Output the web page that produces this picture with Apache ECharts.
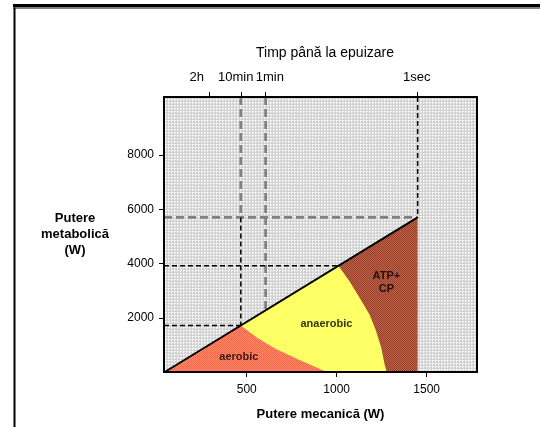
<!DOCTYPE html>
<html>
<head>
<meta charset="utf-8">
<script src="https://cdn.jsdelivr.net/npm/echarts@6/dist/echarts.min.js"></script>
<style>
  html, body { margin: 0; padding: 0; background: #fff; }
  #chart { width: 540px; height: 427px; }
</style>
</head>
<body>
<div id="chart"></div>
<script>
// Axis extents (mechanical power W, metabolic power W)
const xRange = [40, 1780];
const yRange = [0, 10140];
const xTickValues = [500, 1000, 1500];
const yTickValues = [2000, 4000, 6000, 8000];

// Time-to-exhaustion scale on the top axis
const timeTickValues = [290, 467, 605, 1448];
const timeLabelValues = [222, 439, 628, 1445];
const timeLabels = ['2h', '10min', '1min', '1sec'];

// Efficiency line and the energy-source regions under it
const efficiencyLine = [[44, 0], [1450, 5700]];
const atpCpRegion = [[44, 0], [1450, 5700], [1450, 0]];
const anaerobicRegion = [[44, 0], [1010, 3915], [1072, 3337], [1128, 2725], [1183, 2110],
                         [1220, 1495], [1248, 884], [1267, 269], [1278, 0]];
const aerobicRegion = [[44, 0], [467, 1715], [560, 1250], [660, 860], [800, 420], [945, 0]];

// Reference guides: [x1, y1, x2, y2]
const guidesBlack = [[467, 5700, 467, 1715], [40, 1715, 467, 1715],
                     [40, 3915, 1010, 3915], [1450, 10140, 1450, 5700]];
const guidesGray = [[467, 10140, 467, 5700], [605, 10140, 605, 2274], [40, 5700, 1450, 5700]];

// Region captions
const regionNames = ['aerobic', 'anaerobic', 'ATP+\nCP'];
const regionLabelPos = [[456, 538], [943, 1768], [1276, 3307]];

const FONT = '"Liberation Sans", Arial, sans-serif';

function makePattern(size, base, cells) {
  const c = document.createElement('canvas');
  c.width = size; c.height = size;
  const g = c.getContext('2d');
  g.fillStyle = base;
  g.fillRect(0, 0, size, size);
  cells.forEach(([x, y, col]) => { g.fillStyle = col; g.fillRect(x, y, 1, 1); });
  return { image: c, repeat: 'repeat' };
}

const bgPattern = makePattern(3, '#d2d2d2', [[0, 0, '#ffffff'], [1, 0, '#f2f2f2'], [0, 1, '#f2f2f2']]);
const redPattern = makePattern(2, '#ff6040', [[1, 0, '#ff8f70'], [0, 1, '#ff8f70']]);
const brownPattern = makePattern(2, '#9c3a22', [[1, 0, '#b86650'], [0, 1, '#b86650']]);

function polygonSeries(points, fill, z) {
  return {
    type: 'custom',
    coordinateSystem: 'cartesian2d',
    z: z,
    silent: true,
    data: [points[0]],
    renderItem: function (params, api) {
      return {
        type: 'polygon',
        shape: { points: points.map(p => api.coord(p)) },
        style: { fill: fill, stroke: null }
      };
    }
  };
}

function guideSeries(segments, stroke, width, dash, z) {
  return {
    type: 'custom',
    coordinateSystem: 'cartesian2d',
    z: z,
    silent: true,
    encode: { x: [0, 2], y: [1, 3] },
    data: segments,
    renderItem: function (params, api) {
      const a = api.coord([api.value(0), api.value(1)]);
      const b = api.coord([api.value(2), api.value(3)]);
      return {
        type: 'line',
        shape: { x1: a[0], y1: a[1], x2: b[0], y2: b[1] },
        style: { stroke: stroke, lineWidth: width, lineDash: dash }
      };
    }
  };
}

const plain = v => String(v);
const frameLine = { show: true, onZero: false, lineStyle: { color: '#000', width: 2 } };

const chart = echarts.init(document.getElementById('chart'), null, { renderer: 'canvas' });

chart.setOption({
  animation: false,
  backgroundColor: '#ffffff',
  textStyle: { fontFamily: FONT },
  grid: { left: 164, right: 63, top: 97, bottom: 55, containLabel: false },
  graphic: [
    { type: 'rect', shape: { x: 13, y: 4, width: 527, height: 3 }, style: { fill: '#000' } },
    { type: 'rect', shape: { x: 13, y: 7.5, width: 527, height: 1 }, style: { fill: '#000' } },
    { type: 'rect', shape: { x: 13.5, y: 7.5, width: 2, height: 420 }, style: { fill: '#000' } }
  ],
  xAxis: [
    {
      type: 'value', position: 'bottom', min: xRange[0], max: xRange[1], z: 10,
      axisLine: frameLine,
      axisTick: { show: true, customValues: xTickValues, length: 5, lineStyle: { color: '#000', width: 1 } },
      axisLabel: { customValues: xTickValues, formatter: plain, margin: 12, fontSize: 12, color: '#000', fontFamily: FONT },
      splitLine: { show: false },
      name: 'Putere mecanică (W)', nameLocation: 'middle', nameGap: 36,
      nameTextStyle: { fontSize: 13, fontWeight: 'bold', color: '#000', fontFamily: FONT }
    },
    {
      type: 'value', position: 'top', min: xRange[0], max: xRange[1], z: 10,
      axisLine: frameLine,
      axisTick: { show: true, customValues: timeTickValues, length: 5, lineStyle: { color: '#000', width: 1 } },
      axisLabel: {
        customValues: timeLabelValues, margin: 13, fontSize: 13, color: '#000', fontFamily: FONT,
        formatter: v => timeLabels[timeLabelValues.indexOf(v)]
      },
      splitLine: { show: false },
      name: 'Timp până la epuizare', nameLocation: 'middle', nameGap: 37,
      nameTextStyle: { fontSize: 14, color: '#000', fontFamily: FONT, padding: [0, 0, 0, 9] }
    }
  ],
  yAxis: [
    {
      type: 'value', position: 'left', min: yRange[0], max: yRange[1], z: 10,
      axisLine: frameLine,
      axisTick: { show: true, customValues: yTickValues, length: 5, lineStyle: { color: '#000', width: 1 } },
      axisLabel: { customValues: yTickValues, formatter: plain, margin: 10, fontSize: 12, color: '#000', fontFamily: FONT },
      splitLine: { show: false },
      name: 'Putere\nmetabolică\n(W)', nameLocation: 'middle', nameRotate: 0, nameGap: 89,
      nameTextStyle: {
        fontSize: 13, fontWeight: 'bold', color: '#000', fontFamily: FONT,
        align: 'center', verticalAlign: 'middle', lineHeight: 16
      }
    },
    {
      type: 'value', position: 'right', min: yRange[0], max: yRange[1], z: 10,
      axisLine: frameLine,
      axisTick: { show: false }, axisLabel: { show: false }, splitLine: { show: false }
    }
  ],
  series: [
    {
      // dotted plot background
      type: 'custom', coordinateSystem: 'cartesian2d', z: 0, silent: true,
      data: [[xRange[0], yRange[0]]],
      renderItem: function (params) {
        const cs = params.coordSys;
        return { type: 'rect', shape: { x: cs.x, y: cs.y, width: cs.width, height: cs.height }, style: { fill: bgPattern } };
      }
    },
    polygonSeries(atpCpRegion, brownPattern, 1),
    polygonSeries(anaerobicRegion, '#ffff66', 2),
    polygonSeries(aerobicRegion, redPattern, 3),
    guideSeries(guidesGray, '#808080', 2.8, [8, 4], 4),
    guideSeries(guidesBlack, '#000000', 1.5, [5, 3], 5),
    {
      type: 'line', data: efficiencyLine, symbol: 'none', z: 6, silent: true,
      lineStyle: { color: '#000', width: 2 }
    },
    {
      type: 'scatter', symbolSize: 0, z: 7, silent: true,
      data: regionNames.map((n, i) => ({ name: n, value: regionLabelPos[i] })),
      label: {
        show: true, position: 'inside', formatter: '{b}', color: '#000',
        fontSize: 11, fontWeight: 'bold', lineHeight: 13, fontFamily: FONT
      }
    }
  ]
});
</script>
</body>
</html>
